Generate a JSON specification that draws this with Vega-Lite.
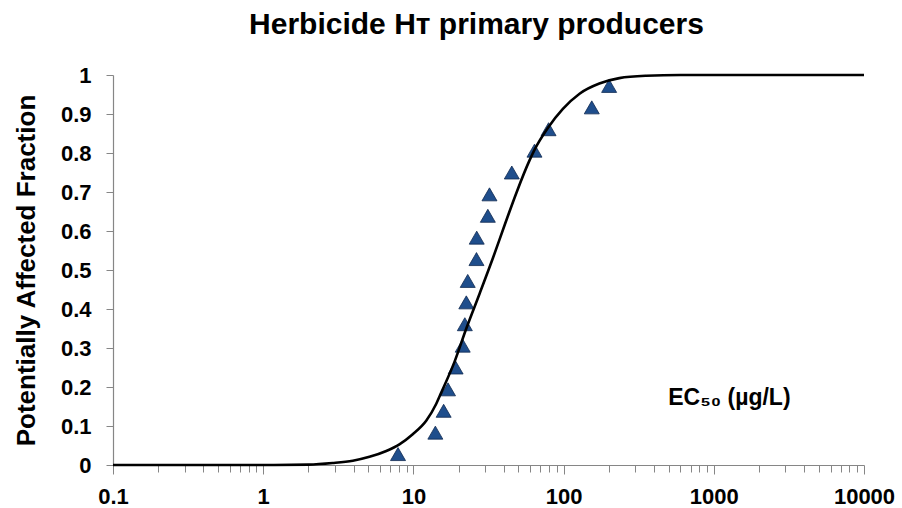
{
  "$schema": "https://vega.github.io/schema/vega-lite/v6.json",
  "width": 751,
  "height": 390,
  "autosize": "none",
  "padding": {"left": 113, "top": 75, "right": 38, "bottom": 43},
  "background": "white",
  "config": {
    "view": {"stroke": null},
    "font": "Liberation Sans",
    "axisX": {
      "title": null,
      "values": [0.1,0.2,0.3,0.4,0.5,0.6,0.7,0.8,0.9,1,2,3,4,5,6,7,8,9,10,20,30,40,50,60,70,80,90,100,200,300,400,500,600,700,800,900,1000,2000,3000,4000,5000,6000,7000,8000,9000,10000],
      "labelExpr": "abs(log(datum.value)/LN10 - round(log(datum.value)/LN10)) < 0.000001 ? (datum.value < 1 ? '0.1' : format(datum.value, 'd')) : ''",
      "labelOverlap": false,
      "labelFlush": false,
      "labelFont": "Liberation Sans",
      "labelFontSize": 22,
      "labelFontWeight": "bold",
      "labelColor": "black",
      "labelPadding": 12,
      "grid": false,
      "domainColor": "#868686",
      "domainWidth": 1.2,
      "tickColor": "#868686",
      "tickWidth": 1,
      "tickSize": {"condition": {"test": "abs(log(datum.value)/LN10 - round(log(datum.value)/LN10)) < 0.000001", "value": 9}, "value": 7}
    },
    "axisY": {
      "titleFont": "Liberation Sans",
      "titleFontSize": 26,
      "titleFontWeight": "bold",
      "titleColor": "black",
      "titlePadding": 21,
      "values": [0,0.1,0.2,0.3,0.4,0.5,0.6,0.7,0.8,0.9,1],
      "labelExpr": "format(datum.value, '~g')",
      "labelFont": "Liberation Sans",
      "labelFontSize": 22,
      "labelFontWeight": "bold",
      "labelColor": "black",
      "labelPadding": 15,
      "grid": false,
      "domainColor": "#868686",
      "domainWidth": 1.2,
      "tickColor": "#868686",
      "tickSize": 7
    }
  },
  "title": {
    "text": "Herbicide Hᴛ primary producers",
    "font": "Liberation Sans",
    "fontSize": 30,
    "fontWeight": "bold",
    "color": "black",
    "anchor": "middle",
    "frame": "group",
    "dx": -12,
    "offset": 24
  },
  "datasets": {
    "obs": [
      {"conc": 7.9, "paf": 0.028},
      {"conc": 14.0, "paf": 0.083},
      {"conc": 15.9, "paf": 0.139},
      {"conc": 17.0, "paf": 0.194},
      {"conc": 19.1, "paf": 0.25},
      {"conc": 21.3, "paf": 0.306},
      {"conc": 22.0, "paf": 0.361},
      {"conc": 22.5, "paf": 0.417},
      {"conc": 23.0, "paf": 0.472},
      {"conc": 26.3, "paf": 0.528},
      {"conc": 26.4, "paf": 0.583},
      {"conc": 31.3, "paf": 0.639},
      {"conc": 32.1, "paf": 0.694},
      {"conc": 45.2, "paf": 0.75},
      {"conc": 64.0, "paf": 0.806},
      {"conc": 79.4, "paf": 0.861},
      {"conc": 154, "paf": 0.917},
      {"conc": 201, "paf": 0.972}
    ],
    "curve": [
      {"conc": 0.1, "paf": 0},
      {"conc": 1, "paf": 0},
      {"conc": 2, "paf": 0.001},
      {"conc": 2.9, "paf": 0.005},
      {"conc": 3.95, "paf": 0.011},
      {"conc": 5.1, "paf": 0.021},
      {"conc": 6.6, "paf": 0.036},
      {"conc": 8.07, "paf": 0.053},
      {"conc": 9.9, "paf": 0.079},
      {"conc": 12.2, "paf": 0.114},
      {"conc": 14.2, "paf": 0.157},
      {"conc": 15.3, "paf": 0.185},
      {"conc": 18.8, "paf": 0.265},
      {"conc": 22.5, "paf": 0.35},
      {"conc": 27.5, "paf": 0.438},
      {"conc": 33.8, "paf": 0.53},
      {"conc": 40.4, "paf": 0.614},
      {"conc": 48.4, "paf": 0.697},
      {"conc": 59.3, "paf": 0.781},
      {"conc": 64, "paf": 0.808},
      {"conc": 78.5, "paf": 0.864},
      {"conc": 98.9, "paf": 0.913},
      {"conc": 127.7, "paf": 0.952},
      {"conc": 173, "paf": 0.978},
      {"conc": 235, "paf": 0.992},
      {"conc": 355, "paf": 0.998},
      {"conc": 600, "paf": 1},
      {"conc": 1096, "paf": 1},
      {"conc": 10000, "paf": 1}
    ],
    "notes": [
      {"label": "EC₅₀ (µg/L)", "conc": 1270, "paf": 0.155}
    ]
  },
  "layer": [
    {
      "data": {"name": "obs"},
      "mark": {"type": "point", "shape": "triangle-up", "filled": true, "size": 225, "fill": "#1F4E8C", "stroke": "#102a50", "strokeWidth": 0.8, "opacity": 1},
      "encoding": {
        "x": {"field": "conc", "type": "quantitative", "scale": {"type": "log", "domain": [0.1, 10000], "nice": false}},
        "y": {"field": "paf", "type": "quantitative", "scale": {"domain": [0, 1], "nice": false}, "title": "Potentially Affected Fraction"}
      }
    },
    {
      "data": {"name": "curve"},
      "mark": {"type": "line", "interpolate": "monotone", "color": "black", "strokeWidth": 2.6},
      "encoding": {
        "x": {"field": "conc", "type": "quantitative"},
        "y": {"field": "paf", "type": "quantitative"}
      }
    },
    {
      "data": {"name": "notes"},
      "mark": {"type": "text", "font": "Liberation Sans", "fontSize": 23, "fontWeight": "bold", "fill": "black", "align": "center", "baseline": "alphabetic"},
      "encoding": {
        "x": {"field": "conc", "type": "quantitative"},
        "y": {"field": "paf", "type": "quantitative"},
        "text": {"field": "label", "type": "nominal"}
      }
    }
  ]
}
